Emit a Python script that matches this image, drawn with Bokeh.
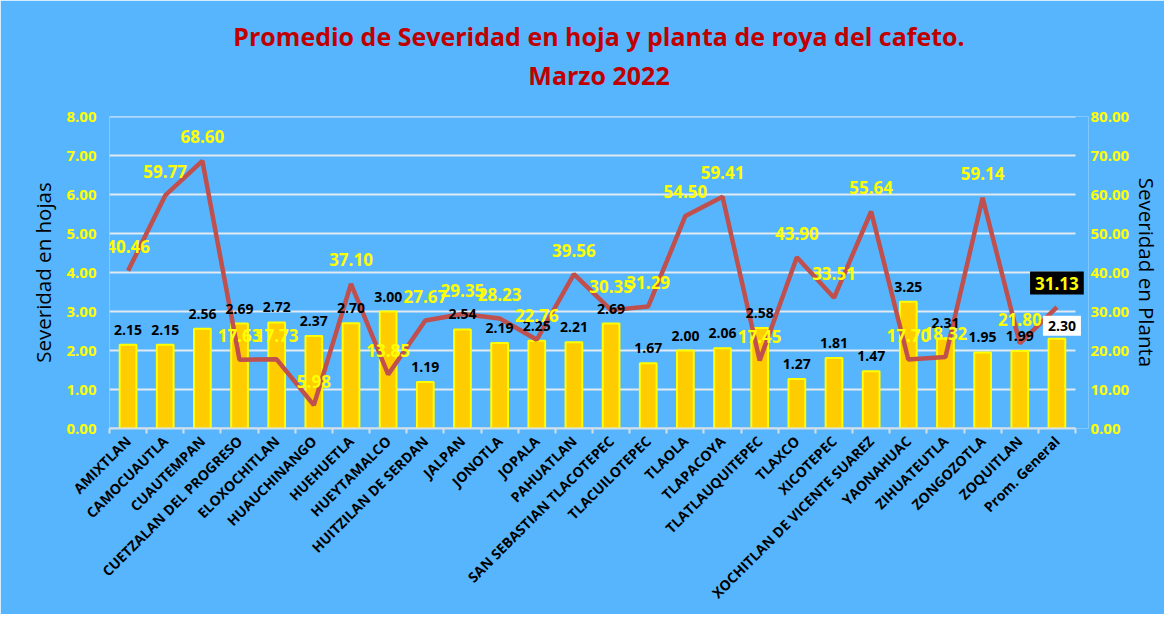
import math
from bokeh.plotting import figure
from bokeh.models import (ColumnDataSource, Range1d, LinearAxis, FixedTicker,
                          NumeralTickFormatter, Title, Label)
from bokeh.core.properties import value
from bokeh.embed import file_html
from bokeh.resources import INLINE

municipios = ["AMIXTLAN", "CAMOCUAUTLA", "CUAUTEMPAN", "CUETZALAN DEL PROGRESO",
              "ELOXOCHITLAN", "HUAUCHINANGO", "HUEHUETLA", "HUEYTAMALCO",
              "HUITZILAN DE SERDAN", "JALPAN", "JONOTLA", "JOPALA", "PAHUATLAN",
              "SAN SEBASTIAN TLACOTEPEC", "TLACUILOTEPEC", "TLAOLA", "TLAPACOYA",
              "TLATLAUQUITEPEC", "TLAXCO", "XICOTEPEC", "XOCHITLAN DE VICENTE SUAREZ",
              "YAONAHUAC", "ZIHUATEUTLA", "ZONGOZOTLA", "ZOQUITLAN", "Prom. General"]
sev_hoja = [2.15, 2.15, 2.56, 2.69, 2.72, 2.37, 2.70, 3.00, 1.19, 2.54, 2.19, 2.25, 2.21,
            2.69, 1.67, 2.00, 2.06, 2.58, 1.27, 1.81, 1.47, 3.25, 2.31, 1.95, 1.99, 2.30]
sev_planta = [40.46, 59.77, 68.60, 17.63, 17.73, 5.98, 37.10, 13.85, 27.67, 29.35, 28.23,
              22.76, 39.56, 30.35, 31.29, 54.50, 59.41, 17.45, 43.90, 33.51, 55.64, 17.70,
              18.32, 59.14, 21.80, 31.13]
left_ticks = [0, 1, 2, 3, 4, 5, 6, 7, 8]
right_ticks = [0, 10, 20, 30, 40, 50, 60, 70, 80]

BG = "#56B5FD"
FONT = "Open Sans"
n = len(municipios)
xs = [i + 0.5 for i in range(n)]

src = ColumnDataSource(dict(x=xs, hoja=sev_hoja, planta=sev_planta))
# labels for the municipalities (the general average gets boxed labels below)
lbl_src = ColumnDataSource(dict(
    x=xs[:-1], hoja=sev_hoja[:-1], planta=sev_planta[:-1],
    hoja_lbl=[f"{v:.2f}" for v in sev_hoja[:-1]],
    planta_lbl=[f"{v:.2f}" for v in sev_planta[:-1]],
))
grid_src = ColumnDataSource(dict(y=left_ticks, x0=[0] * len(left_ticks),
                                  x1=[n] * len(left_ticks)))

# a little room is left right of the last category so its boxed label is not clipped
p = figure(width=1164, height=614, x_range=Range1d(0, n + 0.35), y_range=Range1d(0, 8),
           output_backend="svg", toolbar_location=None,
           min_border_left=109, min_border_right=76, min_border_top=116,
           min_border_bottom=186, background_fill_color=BG, border_fill_color=BG,
           outline_line_color=None)
p.extra_y_ranges = {"right": Range1d(0, 80)}

# titles (first added sits nearest the frame)
p.add_layout(Title(text=" ", text_font=FONT, text_font_size="16px", standoff=0), "above")
p.add_layout(Title(text="Marzo 2022", align="center", text_font=FONT,
                   text_font_size="25px", text_font_style="bold",
                   text_color="#C00000", standoff=2), "above")
p.add_layout(Title(text="Promedio de Severidad en hoja y planta de roya del cafeto.",
                   align="center", text_font=FONT, text_font_size="25px",
                   text_font_style="bold", text_color="#C00000", standoff=4), "above")

# grid lines limited to the category span
p.xgrid.grid_line_color = None
p.ygrid.grid_line_color = None
p.segment(x0="x0", x1="x1", y0="y", y1="y", source=grid_src,
          line_color="#E2EAF1", line_width=2)

# x axis
xax = p.xaxis[0]
xax.bounds = (0, n)
xax.ticker = FixedTicker(ticks=xs, minor_ticks=list(range(n + 1)))
xax.major_label_overrides = {x: m for x, m in zip(xs, municipios)}
xax.major_label_orientation = math.pi / 4
xax.major_tick_out = 0
xax.major_tick_in = 0
xax.minor_tick_out = 5
xax.minor_tick_in = 0
xax.minor_tick_line_color = "#D4DFE8"
xax.minor_tick_line_width = 2
xax.axis_line_color = "#D4DFE8"
xax.axis_line_width = 2
xax.major_label_text_font = FONT
xax.major_label_text_font_style = "bold"
xax.major_label_text_font_size = "14px"
xax.major_label_text_color = "black"
xax.major_label_standoff = 5

# left axis
yax = p.yaxis[0]
yax.ticker = FixedTicker(ticks=left_ticks)
yax.formatter = NumeralTickFormatter(format="0.00")
yax.axis_label = "Severidad en hojas"

rax = LinearAxis(y_range_name="right", ticker=FixedTicker(ticks=right_ticks),
                 formatter=NumeralTickFormatter(format="0.00"),
                 axis_label="Severidad en Planta")
p.add_layout(rax, "right")

for ax, standoff, lstand in ((yax, 13, 6), (rax, 2, 1)):
    ax.axis_line_color = None
    ax.major_tick_out = 0
    ax.major_tick_in = 0
    ax.minor_tick_out = 0
    ax.minor_tick_in = 0
    ax.major_label_standoff = standoff
    ax.major_label_text_font = FONT
    ax.major_label_text_font_style = "bold"
    ax.major_label_text_font_size = "15px"
    ax.major_label_text_color = "#FFFF00"
    ax.axis_label_text_font = FONT
    ax.axis_label_text_font_style = "normal"
    ax.axis_label_text_font_size = "20.5px"
    ax.axis_label_text_color = "black"
    ax.axis_label_standoff = lstand

# bars
p.vbar(x="x", top="hoja", width=0.45, source=src, fill_color="#FFCC00",
       line_color="#FFFF00", line_width=2)

# line
p.line(x="x", y="planta", source=src, y_range_name="right",
       line_color="#C0504D", line_width=4.5)

# data labels
p.text(x="x", y="hoja", text="hoja_lbl", source=lbl_src, y_offset=-15,
       text_align="center", text_baseline="middle", text_font=value(FONT),
       text_font_style="bold", text_font_size="14px", text_color="black")
p.text(x="x", y="planta", text="planta_lbl", source=lbl_src, y_range_name="right",
       y_offset=-24, text_align="center", text_baseline="middle",
       text_font=value(FONT), text_font_style="bold", text_font_size="17px",
       text_color="#FFFF00")

# boxed labels for the general average
p.add_layout(Label(x=xs[-1], y=sev_hoja[-1], text=f"{sev_hoja[-1]:.2f}",
                   x_offset=5, y_offset=13, text_align="center",
                   text_baseline="middle", text_font=FONT, text_font_style="bold",
                   text_font_size="14px", text_color="black",
                   background_fill_color="white", padding=5))
p.add_layout(Label(x=xs[-1], y=sev_planta[-1], y_range_name="right",
                   text=f"{sev_planta[-1]:.2f}", y_offset=24, text_align="center",
                   text_baseline="middle", text_font=FONT, text_font_style="bold",
                   text_font_size="17px", text_color="#FFFF00",
                   background_fill_color="black", padding=5))

open("out.html", "w").write(file_html(p, INLINE))
